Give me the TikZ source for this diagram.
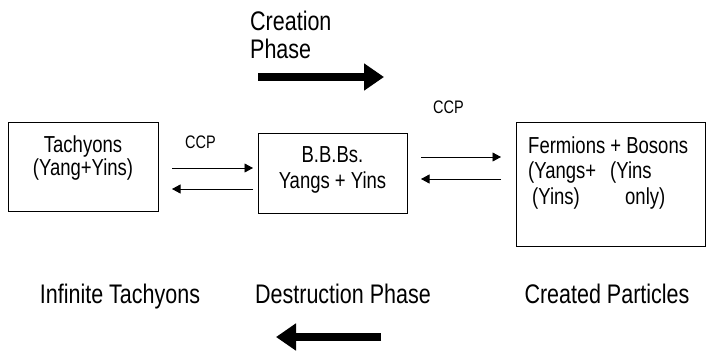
\documentclass[tikz,border=0pt]{standalone}
\usepackage{fontspec}
\setmainfont{Liberation Sans}
\usetikzlibrary{arrows.meta}
\newcommand{\tallt}[1]{\scalebox{1}[1.25]{#1}}
\begin{document}
\begin{tikzpicture}[x=1pt,y=-1pt,
  box/.style={draw,line width=0.8pt,inner sep=0pt},
  lbl/.style={inner sep=0pt,anchor=base},
  thinarr/.style={line width=0.8pt,-{Triangle[length=8.5pt,width=9pt]}},
  bigarr/.style={line width=8.5pt,-{Triangle[length=20pt,width=26pt]}},
  boxfont/.style={font=\fontsize{18.5}{25}\selectfont},
  bigfont/.style={font=\fontsize{21.5}{27}\selectfont},
  ccpfont/.style={font=\fontsize{14.5}{17}\selectfont}]
\useasboundingbox (0,0) rectangle (707,351);
% boxes
\node[box,minimum width=150pt,minimum height=89pt] (tach) at (83,166.5) {};
\node[box,minimum width=149pt,minimum height=80pt] (bbb) at (332.5,173) {};
\node[box,minimum width=189pt,minimum height=124pt] (ferm) at (610.5,184) {};
% box texts
\node[lbl,boxfont] (t1) at (83,152) {\tallt{Tachyons}};
\node[lbl,boxfont] (t2) at (83,175) {\tallt{(Yang+Yins)}};
\node[lbl,boxfont] (b1) at (332.5,162) {\tallt{B.B.Bs.}};
\node[lbl,boxfont] (b2) at (332.5,188) {\tallt{Yangs + Yins}};
\node[lbl,boxfont,anchor=base west] (f1) at (528,153) {\tallt{Fermions + Bosons}};
\node[lbl,boxfont,anchor=base west] (f2) at (528,178) {\tallt{(Yangs+}};
\node[lbl,boxfont,anchor=base west] (f3) at (610,178) {\tallt{(Yins}};
\node[lbl,boxfont,anchor=base west] (f4) at (532,204) {\tallt{(Yins)}};
\node[lbl,boxfont,anchor=base west] (f5) at (625,204) {\tallt{only)}};
% CCP labels
\node[lbl,ccpfont] (c1) at (200.5,148) {\tallt{CCP}};
\node[lbl,ccpfont] (c2) at (448.5,113) {\tallt{CCP}};
% thin arrows
\coordinate (a1s) at (172,168); \coordinate (a1e) at (253,168);
\coordinate (a2s) at (253,189); \coordinate (a2e) at (172,189);
\coordinate (a3s) at (421,157); \coordinate (a3e) at (501,157);
\coordinate (a4s) at (501,179); \coordinate (a4e) at (421,179);
\draw[thinarr] (a1s) -- (a1e);
\draw[thinarr] (a2s) -- (a2e);
\draw[thinarr] (a3s) -- (a3e);
\draw[thinarr] (a4s) -- (a4e);
% phase titles
\node[lbl,bigfont,anchor=base west] (cr1) at (250,30) {\tallt{Creation}};
\node[lbl,bigfont,anchor=base west] (cr2) at (250,58) {\tallt{Phase}};
\coordinate (cas) at (258,77); \coordinate (cae) at (384,77);
\draw[bigarr] (cas) -- (cae);
\node[lbl,bigfont] (inf) at (120,303) {\tallt{Infinite Tachyons}};
\node[lbl,bigfont] (des) at (343,303) {\tallt{Destruction Phase}};
\node[lbl,bigfont] (crp) at (607,303) {\tallt{Created Particles}};
\coordinate (das) at (381,337); \coordinate (dae) at (276,337);
\draw[bigarr] (das) -- (dae);
\end{tikzpicture}
\end{document}
